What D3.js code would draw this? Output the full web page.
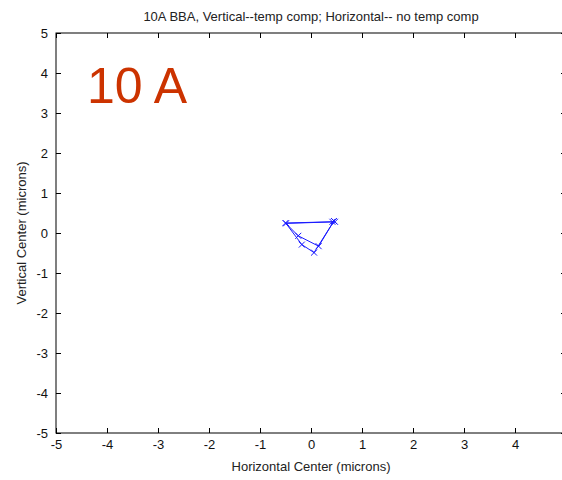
<!DOCTYPE html>
<html>
<head>
<meta charset="utf-8">
<script src="https://cdn.jsdelivr.net/npm/d3@7"></script>
<style>
  html, body { margin: 0; padding: 0; background: #fff; }
  svg { display: block; font-family: "Liberation Sans", Arial, sans-serif; }
</style>
</head>
<body>
<svg id="chart" width="562" height="480"></svg>
<script>
// Beam-centre drift trace (microns)
const horizontal = [0.42, -0.50, -0.25, 0.15, 0.45, 0.06, -0.18, -0.49, 0.47];
const vertical   = [0.28,  0.25, -0.07, -0.33, 0.30, -0.49, -0.29, 0.24, 0.28];
const xTicks = [-5, -4, -3, -2, -1, 0, 1, 2, 3, 4, 5];
const xTickLabels = ["-5", "-4", "-3", "-2", "-1", "0", "1", "2", "3", "4", ""];
const yTicks = [-5, -4, -3, -2, -1, 0, 1, 2, 3, 4, 5];
const yTickLabels = ["-5", "-4", "-3", "-2", "-1", "0", "1", "2", "3", "4", "5"];
const title = "10A BBA, Vertical--temp comp; Horizontal-- no temp comp";
const tag = "10 A";

const svg = d3.select("#chart");
const L = 56, R = 566, T = 33, B = 433;

const x = d3.scaleLinear().domain([-5, 5]).range([L, R]);
const y = d3.scaleLinear().domain([-5, 5]).range([B, T]);

const g = svg.append("g");

// axes frame
g.append("rect")
  .attr("x", L).attr("y", T).attr("width", R - L).attr("height", B - T)
  .attr("fill", "none").attr("stroke", "#000").attr("stroke-width", 1);

const tickLen = 5;
const styleAxis = sel => {
  sel.select(".domain").remove();
  sel.selectAll("line").attr("stroke", "#000");
  sel.selectAll("text").attr("font-size", 13).attr("fill", "#111");
};

// bottom / top / left / right ticks pointing inward
g.append("g").attr("transform", `translate(0,${B})`)
  .call(d3.axisBottom(x).tickValues(xTicks).tickSizeInner(-tickLen).tickSizeOuter(0).tickPadding(7)
    .tickFormat((d, i) => xTickLabels[i]))
  .call(styleAxis);
g.append("g").attr("transform", `translate(0,${T})`)
  .call(d3.axisTop(x).tickValues(xTicks).tickSizeInner(-tickLen).tickSizeOuter(0).tickFormat(""))
  .call(styleAxis);
g.append("g").attr("transform", `translate(${L},0)`)
  .call(d3.axisLeft(y).tickValues(yTicks).tickSizeInner(-tickLen).tickSizeOuter(0).tickPadding(8)
    .tickFormat((d, i) => yTickLabels[i]))
  .call(styleAxis);
g.append("g").attr("transform", `translate(${R},0)`)
  .call(d3.axisRight(y).tickValues(yTicks).tickSizeInner(-tickLen).tickSizeOuter(0).tickFormat(""))
  .call(styleAxis);

// trace
const pts = horizontal.map((h, i) => [h, vertical[i]]);
g.append("path")
  .datum(pts)
  .attr("fill", "none")
  .attr("stroke", "#1a1aff")
  .attr("stroke-width", 1)
  .attr("d", d3.line().x(d => x(d[0])).y(d => y(d[1])));

const m = 3;
g.selectAll(".mk").data(pts).enter().append("path")
  .attr("class", "mk")
  .attr("stroke", "#1a1aff").attr("stroke-width", 1).attr("fill", "none")
  .attr("d", d => {
    const cx = x(d[0]), cy = y(d[1]);
    return `M${cx - m},${cy - m}L${cx + m},${cy + m}M${cx - m},${cy + m}L${cx + m},${cy - m}`;
  });

// labels
svg.append("text")
  .attr("x", 311).attr("y", 21).attr("text-anchor", "middle")
  .attr("font-size", 13).attr("fill", "#222").text(title);

svg.append("text")
  .attr("x", 311).attr("y", 471).attr("text-anchor", "middle")
  .attr("font-size", 13).attr("fill", "#222").text("Horizontal Center (microns)");

svg.append("text")
  .attr("transform", "translate(26,233) rotate(-90)").attr("text-anchor", "middle")
  .attr("font-size", 13).attr("fill", "#222").text("Vertical Center (microns)");

svg.append("text")
  .attr("x", 87).attr("y", 103)
  .attr("font-size", 50).attr("fill", "#cc3300").text(tag);
</script>
</body>
</html>
